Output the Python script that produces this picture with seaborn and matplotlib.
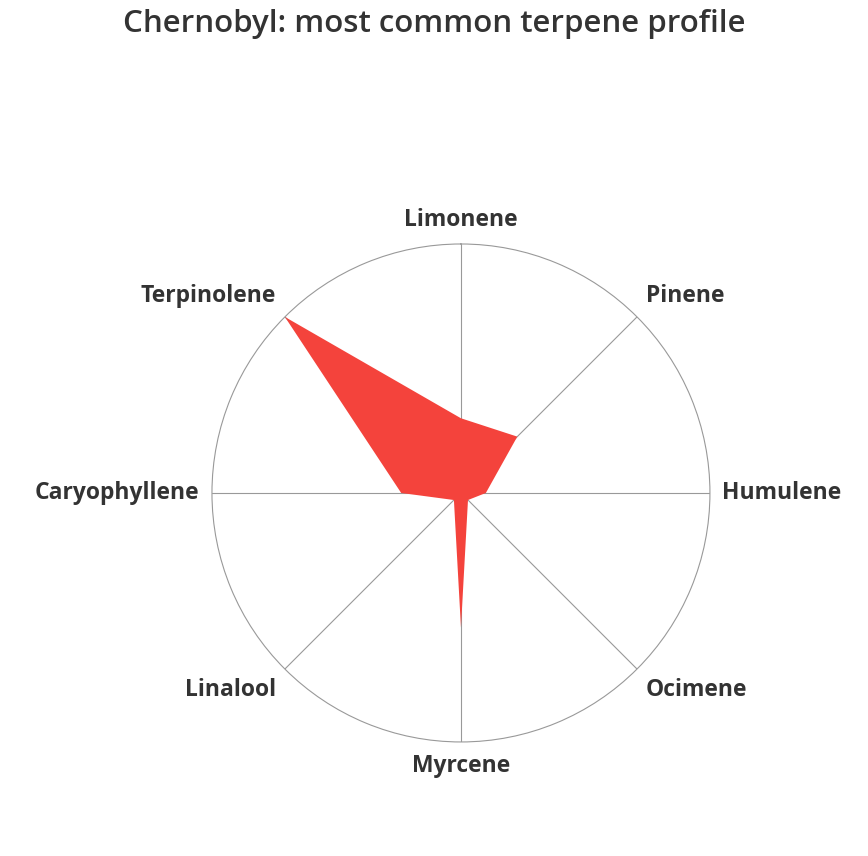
import numpy as np
import matplotlib
matplotlib.use("Agg")
import matplotlib.pyplot as plt
import seaborn as sns

terpenes = ["Limonene", "Pinene", "Humulene", "Ocimene",
            "Myrcene", "Linalool", "Caryophyllene", "Terpinolene"]
values = [0.30, 0.32, 0.10, 0.04, 0.54, 0.04, 0.24, 1.0]

sns.set_theme(style="white")
plt.rcParams['font.family'] = ['Open Sans', 'DejaVu Sans']

fill_color = "#f4433c"
text_color = "#333333"

fig = plt.figure(figsize=(8.68, 8.56), dpi=100)
ax = fig.add_axes([0.2442, 0.1332, 0.5737, 0.5818], projection="polar")
ax.set_theta_zero_location("N")
ax.set_theta_direction(-1)

angles = np.linspace(0, 2 * np.pi, len(terpenes), endpoint=False)
ax.fill(np.append(angles, angles[0]), values + values[:1],
        color=fill_color, linewidth=0, zorder=3)

ax.set_ylim(0, 1)
ax.set_yticks([])
ax.set_xticks(angles)
ax.set_xticklabels([])
ax.grid(axis="x", color="#999999", linewidth=0.8)
ax.grid(axis="y", visible=False)
ax.spines["polar"].set_color("#999999")
ax.spines["polar"].set_linewidth(0.8)

aligns = [("center", "bottom"), ("left", "bottom"), ("left", "center"),
          ("left", "top"), ("center", "top"), ("right", "top"),
          ("right", "center"), ("right", "bottom")]
for ang, name, (ha, va) in zip(angles, terpenes, aligns):
    ax.text(ang, 1.05, name, ha=ha, va=va, fontsize=16.5, fontweight="bold",
            color=text_color)

fig.suptitle("Chernobyl: most common terpene profile", x=0.5, y=0.99,
             va="top", fontsize=22.5, fontweight="semibold", color=text_color)

fig.savefig("out.png", dpi=100, facecolor="white")
